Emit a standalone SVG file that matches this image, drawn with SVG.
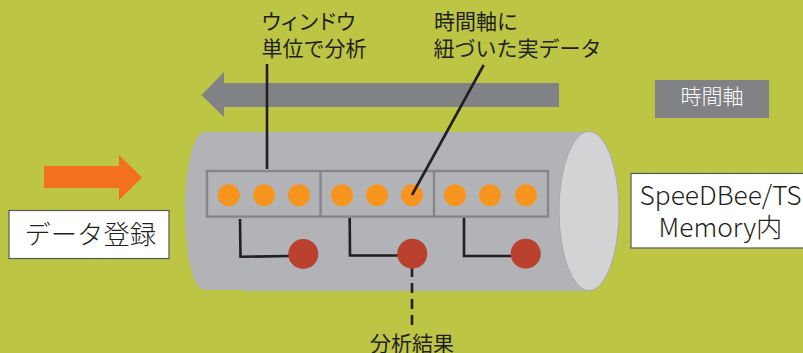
<svg xmlns="http://www.w3.org/2000/svg" width="803" height="353" viewBox="0 0 803 353">
<style>
text{font-family:"Noto Sans CJK JP","Noto Sans",sans-serif;fill:#231f20;font-weight:300}
.t{font-size:21px;font-weight:400}
.b{font-size:26.300px}
.box{fill:#fff;stroke:#58595b;stroke-width:1.2}
.o{fill:#f7941d}
.r{fill:#b9412d}
.l{fill:none;stroke:#231f20;stroke-width:2.6}
.win{fill:none;stroke:#858689;stroke-width:2.4}
</style>
<rect width="803" height="353" fill="#bdc545"/>
<g id="cylinder">
<path d="M205 132H589V291H243L243 290H205C192 290 185 250 185 211C185 172 192 132 205 132Z" fill="#b1b3b6"/>
<ellipse cx="589" cy="211" rx="30" ry="79.500" fill="#d1d3d4" stroke="#a7a9ac" stroke-width="1"/>
</g>
<g id="time-arrow"><path d="M559 83H224V72L201.500 95L224 117V107H559Z" fill="#808285"/></g>
<g id="data-arrow"><path d="M44 166H119V155L142 177.500L119 200V188H44Z" fill="#f37021"/></g>
<g id="windows">
<rect class="win" x="207" y="171" width="341" height="45.600"/>
<path class="win" d="M320.500 171V217M434 171V217"/>
</g>
<g id="data-points">
<circle class="o" cx="228.700" cy="195.300" r="11"/><circle class="o" cx="264" cy="195.300" r="11"/><circle class="o" cx="299" cy="195.300" r="11"/>
<circle class="o" cx="342" cy="195.300" r="11"/><circle class="o" cx="377" cy="195.300" r="11"/><circle class="o" cx="412" cy="195.300" r="11"/>
<circle class="o" cx="455" cy="195.300" r="11"/><circle class="o" cx="490" cy="195.300" r="11"/><circle class="o" cx="526" cy="195.300" r="11"/>
</g>
<g id="connectors">
<path class="l" d="M267 64V169"/>
<path class="l" d="M483.700 65L412 195"/>
<path class="l" d="M240 219L240.500 256.800L289 256"/>
<path class="l" d="M349.700 218L350 255.500L398 255.500"/>
<path class="l" d="M464 218V256H512"/>
<path class="l" d="M412 267V330" stroke-dasharray="10 6"/>
</g>
<g id="results">
<circle class="r" cx="303.300" cy="254" r="15"/><circle class="r" cx="412.300" cy="253.700" r="15"/><circle class="r" cx="525.700" cy="253.700" r="15"/>
</g>
<g id="label-window"><text class="t" x="261" y="29" style="letter-spacing:-2.400px">ウィンドウ</text><text class="t" x="261.500" y="56">単位で分析</text></g>
<g id="label-real"><text class="t" x="434" y="29">時間軸に</text><text class="t" x="433.500" y="56">紐づいた実データ</text></g>
<g id="label-result"><text class="t" x="370" y="351">分析結果</text></g>
<g id="label-time"><rect x="655" y="80" width="114" height="38" fill="#808285"/><text class="t" x="712" y="104" text-anchor="middle" style="fill:#fff;font-weight:300">時間軸</text></g>
<g id="label-input"><rect class="box" x="9" y="210.500" width="160" height="48"/><text class="b" x="24.500" y="243.500">データ登録</text></g>
<g id="label-memory"><rect class="box" x="631" y="173.500" width="174" height="74.500"/><text class="b" x="720.500" y="205" text-anchor="middle">SpeeDBee/TS</text><text class="b" x="720.500" y="237" text-anchor="middle">Memory内</text></g>
</svg>
